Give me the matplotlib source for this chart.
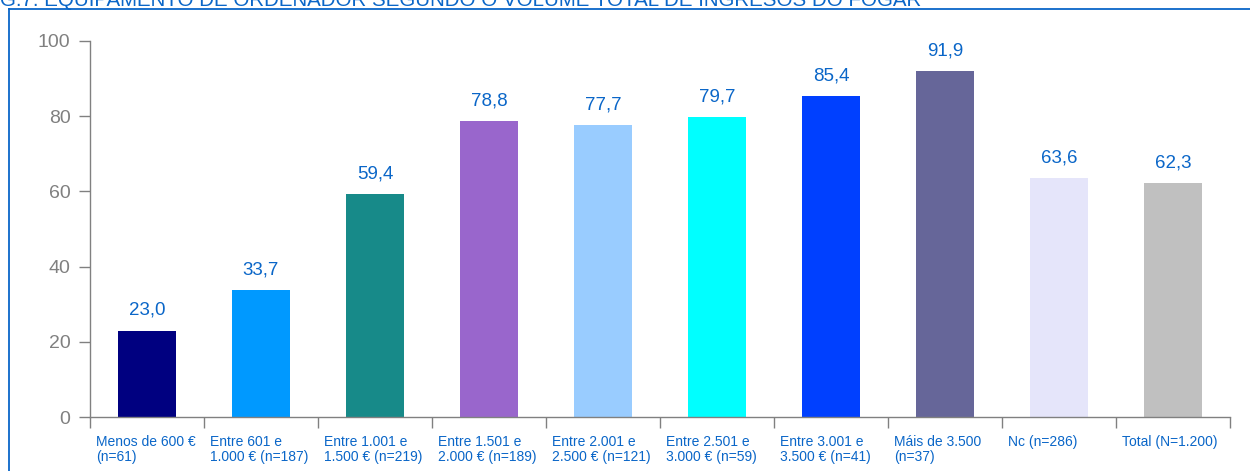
import matplotlib
import numpy as np

matplotlib.use("Agg")
import matplotlib.pyplot as plt  # noqa: E402
from matplotlib.lines import Line2D  # noqa: E402
import matplotlib.transforms as mtransforms  # noqa: E402

plt.rcParams.update({"font.family": ["Liberation Sans", "DejaVu Sans"]})

TITLE = "G.7. EQUIPAMENTO DE ORDENADOR SEGUNDO O VOLUME TOTAL DE INGRESOS DO FOGAR"
categories = ["Menos de 600 €\n(n=61)", "Entre 601 e\n1.000 € (n=187)",
              "Entre 1.001 e\n1.500 € (n=219)", "Entre 1.501 e\n2.000 € (n=189)",
              "Entre 2.001 e\n2.500 € (n=121)", "Entre 2.501 e\n3.000 € (n=59)",
              "Entre 3.001 e\n3.500 € (n=41)", "Máis de 3.500\n(n=37)",
              "Nc (n=286)", "Total (N=1.200)"]
values = [23.0, 33.7, 59.4, 78.8, 77.7, 79.7, 85.4, 91.9, 63.6, 62.3]
colors = ["#000080", "#0099FF", "#178A89", "#9966CC", "#99CCFF",
          "#00FFFF", "#0040FF", "#666699", "#E5E5FA", "#C0C0C0"]
yticks = [0, 20, 40, 60, 80, 100]

BLUE = "#0A66C8"
GREY = "#808080"

fig = plt.figure(figsize=(12.5, 4.71), dpi=100)
ax = fig.add_axes([0.072, 0.1146, 0.912, 0.7984])

x = np.arange(len(values))
ax.bar(x, values, width=0.51, color=colors, zorder=2)
for xi, v in zip(x, values):
    ax.annotate(f"{v:.1f}".replace(".", ","), (xi, v), xytext=(0, 14.5),
                textcoords="offset points", ha="center", va="center",
                fontsize=13.5, color=BLUE)

ax.set_xlim(-0.5, len(values) - 0.5)
ax.set_ylim(0, 100)
ax.set_yticks(yticks)
ax.set_yticklabels([str(t) for t in yticks], fontsize=14, color=GREY)
ax.tick_params(axis="y", length=8, width=1, color=GREY, pad=6)
ax.set_xticks(np.arange(len(values) + 1) - 0.5)
ax.set_xticklabels([])
ax.tick_params(axis="x", length=8, width=1, color=GREY, direction="out")
for s in ("top", "right"):
    ax.spines[s].set_visible(False)
for s in ("left", "bottom"):
    ax.spines[s].set_color(GREY)
    ax.spines[s].set_linewidth(1)

trans = mtransforms.blended_transform_factory(ax.transData, ax.transAxes)
for xi, lab in zip(x, categories):
    ax.text(xi - 0.5 + 0.055, -0.048, lab, transform=trans, ha="left", va="top",
            fontsize=10, color=BLUE, linespacing=1.1)

# frame of the original page (title is cut off at the top edge, as in the source)
fig.add_artist(Line2D([0.0072, 1.0], [0.981, 0.981], transform=fig.transFigure,
                      color=BLUE, lw=1.3))
fig.add_artist(Line2D([0.0072, 0.0072], [0.0, 0.981], transform=fig.transFigure,
                      color=BLUE, lw=1.3))
fig.text(0.0, 1.0, TITLE, ha="left", va="center", fontsize=14.8, color=BLUE)

fig.savefig("out.png", dpi=100)
